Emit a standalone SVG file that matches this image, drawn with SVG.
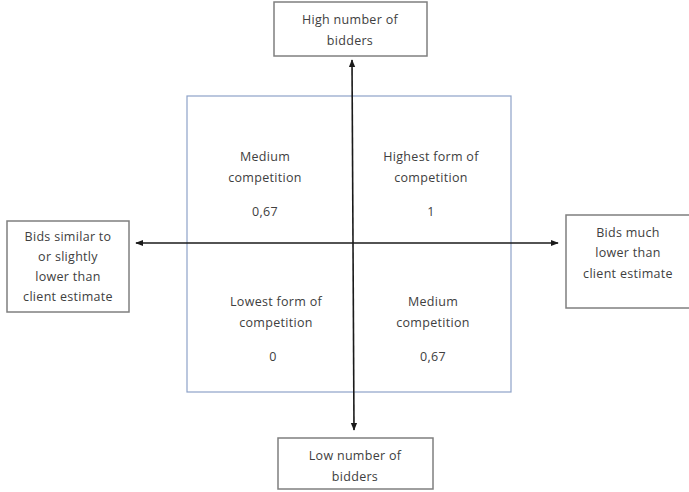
<svg xmlns="http://www.w3.org/2000/svg" width="689" height="492" viewBox="0 0 689 492">
<defs>
<style>
.box{fill:#fff;stroke:#7f7f7f;stroke-width:1.5}
.t{font-family:"Open Sans","Liberation Sans",sans-serif;font-size:12.5px;letter-spacing:0.3px;fill:#404040;text-anchor:middle}
.ax{stroke:#1a1a1a;stroke-width:1.6;fill:none}
</style>
<marker id="ah" viewBox="0 0 10 10" refX="9" refY="5" markerWidth="5" markerHeight="5" orient="auto">
<path d="M0,1 L10,5 L0,9 z" fill="#1a1a1a"/>
</marker>
</defs>
<rect width="689" height="492" fill="#fff"/>
<g id="matrix">
<rect x="187" y="96" width="324" height="296" fill="none" stroke="#8ea2c8" stroke-width="1.2"/>
</g>
<g id="connectors">
<line class="ax" x1="353" y1="243" x2="352" y2="60" marker-end="url(#ah)"/>
<line class="ax" x1="353" y1="243" x2="354" y2="430" marker-end="url(#ah)"/>
<line class="ax" x1="353" y1="243" x2="136" y2="243" marker-end="url(#ah)"/>
<line class="ax" x1="353" y1="243" x2="558" y2="243" marker-end="url(#ah)"/>
</g>
<g id="top">
<rect class="box" x="274" y="2" width="153" height="54"/>
<text class="t" x="350" y="24">High number of</text>
<text class="t" x="350" y="45">bidders</text>
</g>
<g id="bottom">
<rect class="box" x="278" y="438" width="155" height="51"/>
<text class="t" x="355" y="460">Low number of</text>
<text class="t" x="355" y="481">bidders</text>
</g>
<g id="left">
<rect class="box" x="7" y="221" width="122" height="91"/>
<text class="t" x="68" y="241">Bids similar to</text>
<text class="t" x="68" y="261">or slightly</text>
<text class="t" x="68" y="281">lower than</text>
<text class="t" x="68" y="301">client estimate</text>
</g>
<g id="right">
<rect class="box" x="566" y="215" width="130" height="93"/>
<text class="t" x="628" y="237">Bids much</text>
<text class="t" x="628" y="257">lower than</text>
<text class="t" x="628" y="278">client estimate</text>
</g>
<g id="q-tl">
<text class="t" x="265" y="161">Medium</text>
<text class="t" x="265" y="182">competition</text>
<text class="t" x="265" y="216">0,67</text>
</g>
<g id="q-tr">
<text class="t" x="431" y="161">Highest form of</text>
<text class="t" x="431" y="182">competition</text>
<text class="t" x="431" y="216">1</text>
</g>
<g id="q-bl">
<text class="t" x="276" y="306">Lowest form of</text>
<text class="t" x="276" y="327">competition</text>
<text class="t" x="273" y="361">0</text>
</g>
<g id="q-br">
<text class="t" x="433" y="306">Medium</text>
<text class="t" x="433" y="327">competition</text>
<text class="t" x="433" y="361">0,67</text>
</g>
</svg>
